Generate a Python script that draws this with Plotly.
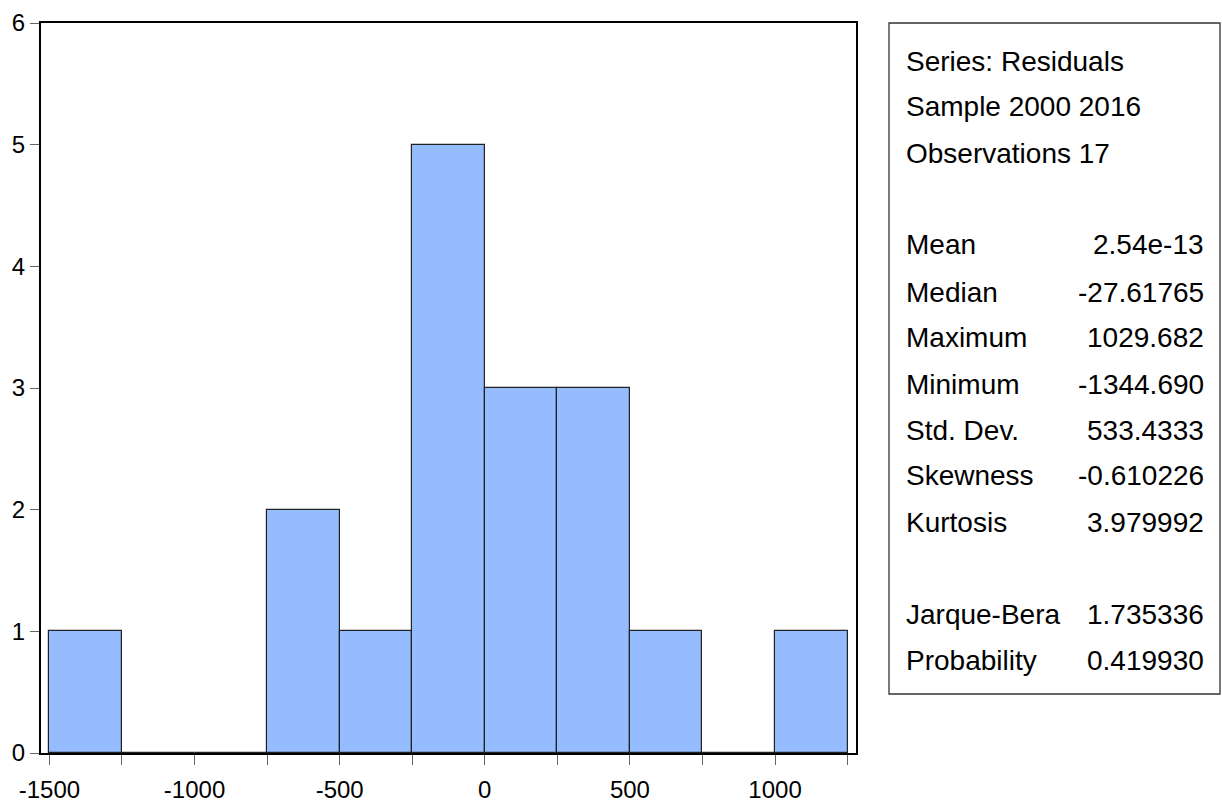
import plotly.graph_objects as go

# Histogram data (bin left edges, counts)
bin_left = [-1500, -1250, -1000, -750, -500, -250, 0, 250, 500, 750, 1000]
counts = [1, 0, 0, 2, 1, 5, 3, 3, 1, 0, 1]
bin_width = 250

x_tick_vals = [-1500, -1250, -1000, -750, -500, -250, 0, 250, 500, 750, 1000, 1250]
x_tick_text = ["-1500", "", "-1000", "", "-500", "", "0", "", "500", "", "1000", ""]
y_tick_vals = [0, 1, 2, 3, 4, 5, 6]

header_lines = ["Series: Residuals", "Sample 2000 2016", "Observations 17"]
stat_names = ["Mean", "Median", "Maximum", "Minimum", "Std. Dev.", "Skewness", "Kurtosis"]
stat_values = ["2.54e-13", "-27.61765", "1029.682", "-1344.690", "533.4333", "-0.610226", "3.979992"]
test_names = ["Jarque-Bera", "Probability"]
test_values = ["1.735336", "0.419930"]

FONT = "Liberation Sans Narrow, Arial Narrow, Liberation Sans, Arial, sans-serif"

centers = [b + bin_width / 2 for b in bin_left]

fig = go.Figure()
fig.add_trace(go.Bar(
    x=centers, y=counts, width=[bin_width] * len(centers),
    marker=dict(color="#94BCFE", line=dict(color="#222222", width=1.2)),
    showlegend=False,
))

W, H = 1222, 810
L, R, T, B = 41, 366, 23, 57
pw, ph = W - L - R, H - T - B


def px_x(p):
    return (p - L) / pw


def px_y(p):
    return (H - B - p) / ph


fig.update_layout(
    width=W, height=H,
    margin=dict(l=L, r=R, t=T, b=B, autoexpand=False),
    paper_bgcolor="white", plot_bgcolor="white",
    font=dict(family=FONT, size=24, color="black"),
    bargap=0,
    xaxis=dict(
        range=[-1529, 1279], tickvals=x_tick_vals, ticktext=x_tick_text,
        ticks="outside", ticklen=10, tickcolor="#666666", tickwidth=1.3,
        showline=True, linecolor="black", linewidth=2, mirror=True,
        showgrid=False, zeroline=False, tickfont=dict(size=24),
        automargin=False, ticklabelstandoff=4,
    ),
    yaxis=dict(
        range=[0, 6], tickvals=y_tick_vals,
        ticks="outside", ticklen=9, tickcolor="#666666", tickwidth=1.3,
        showline=True, linecolor="black", linewidth=2, mirror=True,
        showgrid=False, zeroline=False, tickfont=dict(size=24),
        automargin=False, ticklabelstandoff=0,
    ),
)

# Stats box
fig.add_shape(type="rect", xref="paper", yref="paper",
              x0=px_x(889), x1=px_x(1220), y0=px_y(694), y1=px_y(23),
              line=dict(color="#333333", width=1.3), fillcolor="rgba(0,0,0,0)")

left_x = px_x(904)
right_x = px_x(1206)
fs = 28


def add_text(x, y, t, anchor):
    fig.add_annotation(xref="paper", yref="paper", x=x, y=px_y(y), text=t,
                       showarrow=False, xanchor=anchor, yanchor="middle",
                       font=dict(size=fs, family=FONT))


header_y = [61, 107, 153]
for t, yy in zip(header_lines, header_y):
    add_text(left_x, yy, t, "left")

stat_y = [245, 292, 338, 384, 430, 476, 522]
for n, v, yy in zip(stat_names, stat_values, stat_y):
    add_text(left_x, yy, n, "left")
    add_text(right_x, yy, v, "right")

test_y = [614, 660]
for n, v, yy in zip(test_names, test_values, test_y):
    add_text(left_x, yy, n, "left")
    add_text(right_x, yy, v, "right")

fig.write_html(
    "out.html",
    config={"displayModeBar": False},
    post_script="document.body.style.margin='0';document.body.style.overflow='hidden';",
)
